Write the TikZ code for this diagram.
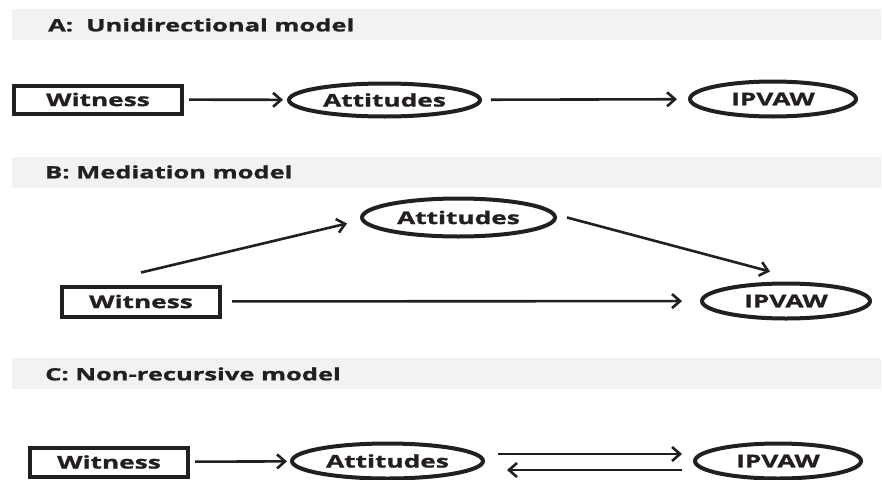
\documentclass[tikz,border=0pt]{standalone}
\usepackage{fontspec}
\setmainfont{Open Sans}[FakeStretch=1.5, BoldFeatures={FakeBold=1.2}]
\usepackage{tikz}
\usetikzlibrary{shapes, arrows.meta, positioning}
\definecolor{bandgray}{HTML}{F1F2F4}
\definecolor{inkblack}{HTML}{231F20}

\begin{document}
\begin{tikzpicture}[>={Straight Barb[length=8pt, width=14pt]}, x=1pt, y=-1pt,
  band/.style={fill=bandgray, draw=none, rectangle, minimum width=869pt, minimum height=31pt, inner sep=0pt},
  title/.style={anchor=west, inner sep=0pt, text=inkblack, font=\fontsize{17}{19}\selectfont\bfseries},
  box/.style={draw=inkblack, rectangle, line width=4pt, inner sep=0pt, text=inkblack, font=\fontsize{17.5}{20}\selectfont\bfseries},
  oval/.style={draw=inkblack, ellipse, line width=4pt, inner sep=0pt, text=inkblack, font=\fontsize{17.5}{20}\selectfont\bfseries},
  link/.style={->, draw=inkblack, line width=2.6pt}]

\useasboundingbox (0,0) rectangle (882,479);

% Headers
\node (bandA) [band] at (446.5,24.5) {};
\node (titleA) [title] at (48,25) {A:\ \ Unidirectional model};
\node (bandB) [band] at (446.5,172) {};
\node (titleB) [title] at (45,172) {B: Mediation model};
\node (bandC) [band] at (446.5,373.5) {};
\node (titleC) [title] at (45,374) {C: Non-recursive model};

% Nodes, model A
\node (witnessA) [box, minimum width=168pt, minimum height=28pt] at (98,99.5) {Witness};
\node (attA) [oval, minimum width=191pt, minimum height=33pt] at (384.5,100) {Attitudes};
\node (ipvawA) [oval, minimum width=166pt, minimum height=35pt] at (773,99) {IPVAW};

% Nodes, model B
\node (witnessB) [box, minimum width=158pt, minimum height=30pt] at (141,301.5) {Witness};
\node (attB) [oval, minimum width=193pt, minimum height=38pt] at (458.5,217.5) {Attitudes};
\node (ipvawB) [oval, minimum width=168pt, minimum height=35pt] at (786,301) {IPVAW};

% Nodes, model C
\node (witnessC) [box, minimum width=158pt, minimum height=29pt] at (109,462) {Witness};
\node (attC) [oval, minimum width=191pt, minimum height=35pt] at (387.5,461) {Attitudes};
\node (ipvawC) [oval, minimum width=166pt, minimum height=35pt] at (778,461) {IPVAW};

% Arrows, model A
\draw[link, shorten <=5pt, shorten >=4pt] (witnessA) -- (attA);
\draw[link, shorten <=9pt, shorten >=11pt] (attA) -- (ipvawA);

% Arrows, model B
\draw[link] ([yshift=12pt]witnessB.north) -- ([xshift=-13pt, yshift=-6pt]attB.west);
\draw[link] ([xshift=10pt]attB.east) -- ([xshift=-16pt, yshift=10pt]ipvawB.north);
\draw[link, shorten <=10pt, shorten >=18pt] (witnessB) -- (ipvawB);

% Arrows, model C
\draw[link, shorten <=5pt, shorten >=3pt] (witnessC) -- (attC);
\draw[link, shorten <=13pt, shorten >=11pt] ([yshift=7pt]attC.east) -- ([yshift=7pt]ipvawC.west);
\draw[link, shorten <=11pt, shorten >=22pt] ([yshift=-9pt]ipvawC.west) -- ([yshift=-9pt]attC.east);

\end{tikzpicture}
\end{document}
